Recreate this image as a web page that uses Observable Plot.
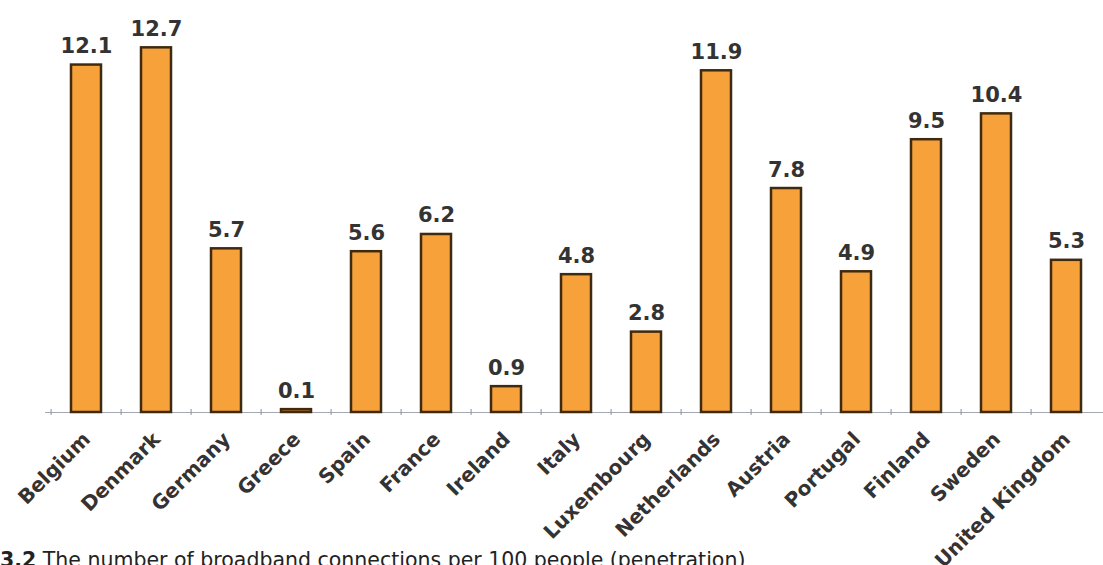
<!DOCTYPE html>
<html>
<head>
<meta charset="utf-8">
<script src="https://cdn.jsdelivr.net/npm/d3@7"></script>
<script src="https://cdn.jsdelivr.net/npm/@observablehq/plot@0.6"></script>
<style>
  html, body { margin: 0; padding: 0; background: #fff; overflow: hidden; }
  #caption { font-family: "DejaVu Sans", Verdana, sans-serif; font-size: 20.5px; line-height: 20px; color: #222; margin-top: 10px; padding-left: 0px; white-space: nowrap; }
  #caption b { font-weight: bold; }
</style>
</head>
<body>
<div id="chart"></div>
<div id="caption"><b>3.2</b> The number of broadband connections per 100 people (penetration)</div>
<script>
const countries = ["Belgium", "Denmark", "Germany", "Greece", "Spain", "France", "Ireland", "Italy", "Luxembourg", "Netherlands", "Austria", "Portugal", "Finland", "Sweden", "United Kingdom"];
const values = [12.1, 12.7, 5.7, 0.1, 5.6, 6.2, 0.9, 4.8, 2.8, 11.9, 7.8, 4.9, 9.5, 10.4, 5.3];

const data = countries.map((c, i) => ({country: c, value: values[i]}));

const W = 1103, H = 540, ML = 45, MR = -4;
const step = (W - MR - ML) / countries.length;

const chart = Plot.plot({
  width: W,
  height: H,
  marginLeft: ML,
  marginRight: MR,
  marginTop: 10,
  marginBottom: 128,
  style: {fontFamily: "DejaVu Sans, Verdana, sans-serif", background: "#fff", overflow: "visible"},
  x: {domain: countries, paddingInner: 0.577, paddingOuter: 0.2885, axis: null},
  y: {domain: [0, 14], axis: null},
  marks: [
    Plot.ruleY([0], {stroke: "#a4a9b3", strokeWidth: 1.2}),
    Plot.ruleX(countries, {x: d => d, y1: 0, y2: 0, dx: -step / 2, insetTop: -3, insetBottom: -3, stroke: "#8a8f99", strokeWidth: 1}),
    Plot.barY(data, {x: "country", y: "value", fill: "#F7A13A", stroke: "#3f2a10", strokeWidth: 2.5}),
    Plot.text(data, {x: "country", y: "value", text: d => d.value.toFixed(1), dy: -12, lineAnchor: "bottom", fontSize: 21, fontWeight: "bold", fill: "#333"}),
    Plot.text(data, {x: "country", y: 0, text: "country", rotate: -45, textAnchor: "end", lineAnchor: "bottom", dx: 5, dy: 28, fontSize: 20, fontWeight: "bold", fill: "#333"})
  ]
});

document.getElementById("chart").appendChild(chart);
</script>
</body>
</html>
